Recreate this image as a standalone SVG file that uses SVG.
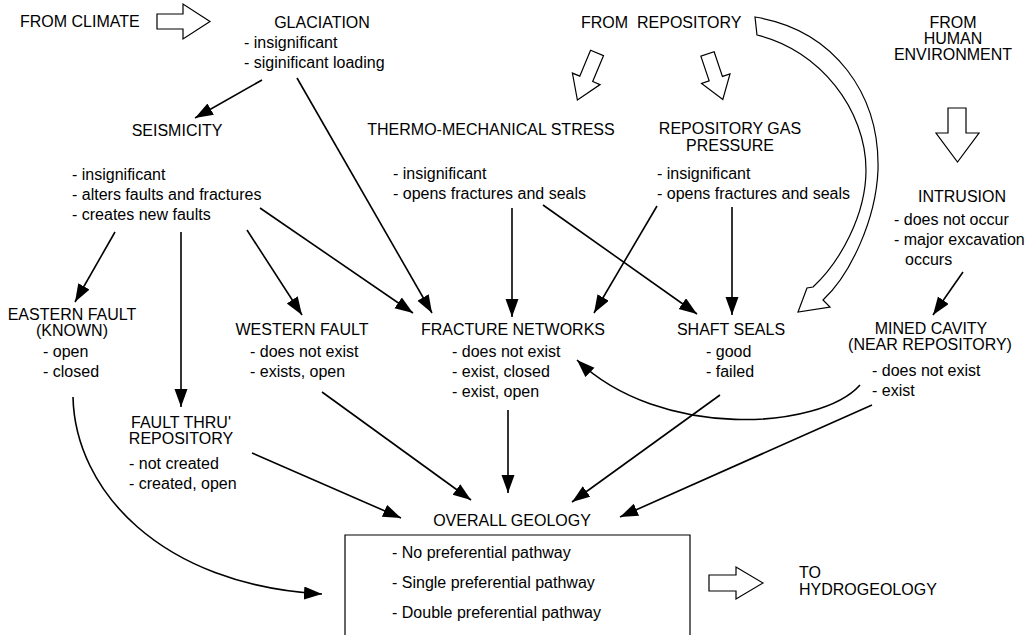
<svg xmlns="http://www.w3.org/2000/svg" width="1034" height="635" viewBox="0 0 1034 635">
<style>
text{font-family:"Liberation Sans",Arial,sans-serif;font-size:16px;fill:#000}
.m{text-anchor:middle}
.c{fill:none;stroke:#000;stroke-width:1.6}
.h{fill:#fff;stroke:#000;stroke-width:1.2;stroke-linejoin:miter}
</style>
<defs>
<marker id="ah" markerUnits="userSpaceOnUse" markerWidth="19" markerHeight="14" refX="18" refY="6.5" orient="auto">
<path d="M0,0 L18,6.5 L0,13 z" fill="#000"/>
</marker>
</defs>
<rect width="1034" height="635" fill="#fff"/>

<g id="from-climate">
<text x="20" y="27">FROM CLIMATE</text>
<polygon class="h" points="157,14 183,14 183,4 210,21.5 183,39 183,29 157,29"/>
</g>
<g id="glaciation">
<text class="m" x="322" y="27.5">GLACIATION</text>
<text x="244" y="48">- insignificant</text>
<text x="244" y="68">- siginificant loading</text>
</g>
<g id="from-repository">
<text x="581" y="27.5" xml:space="preserve">FROM  REPOSITORY</text>
<polygon class="h" points="0,-7 28,-7 28,-15 51,0 28,15 28,7 0,7" transform="translate(597,53) rotate(112.6)"/>
<polygon class="h" points="0,-7 26,-7 26,-15 48,0 26,15 26,7 0,7" transform="translate(707.5,54) rotate(71.4)"/>
<path class="h" d="M755,17 C835,30 880,95 878,170 C876,220 850,275 823,300 L830,307 L798,312 L807,288 L813,287 C840,262 866,215 866,170 C866,110 820,50 757,35 Z"/>
</g>
<g id="from-human">
<text class="m" x="953" y="28">FROM</text>
<text class="m" x="953" y="44">HUMAN</text>
<text class="m" x="953" y="60">ENVIRONMENT</text>
<polygon class="h" points="948,108 966,108 966,133 979,133 957.5,162 936,133 948,133"/>
</g>
<g id="seismicity">
<text class="m" x="177" y="136">SEISMICITY</text>
<text x="72" y="180">- insignificant</text>
<text x="72" y="200">- alters faults and fractures</text>
<text x="72" y="220">- creates new faults</text>
</g>
<g id="thermo">
<text class="m" x="491" y="135">THERMO-MECHANICAL STRESS</text>
<text x="393" y="179">- insignificant</text>
<text x="393" y="199">- opens fractures and seals</text>
</g>
<g id="gas-pressure">
<text class="m" x="730" y="134">REPOSITORY GAS</text>
<text class="m" x="730" y="151">PRESSURE</text>
<text x="657" y="179">- insignificant</text>
<text x="657" y="199">- opens fractures and seals</text>
</g>
<g id="intrusion">
<text class="m" x="962" y="202">INTRUSION</text>
<text x="894" y="225">- does not occur</text>
<text x="894" y="245">- major excavation</text>
<text x="905" y="265">occurs</text>
</g>
<g id="eastern-fault">
<text class="m" x="72" y="320">EASTERN FAULT</text>
<text class="m" x="72" y="336">(KNOWN)</text>
<text x="43" y="357">- open</text>
<text x="43" y="377">- closed</text>
</g>
<g id="western-fault">
<text class="m" x="302" y="335">WESTERN FAULT</text>
<text x="250" y="357">- does not exist</text>
<text x="250" y="377">- exists, open</text>
</g>
<g id="fracture-networks">
<text class="m" x="513" y="335">FRACTURE NETWORKS</text>
<text x="452" y="357">- does not exist</text>
<text x="452" y="377">- exist, closed</text>
<text x="452" y="397">- exist, open</text>
</g>
<g id="shaft-seals">
<text class="m" x="731" y="335">SHAFT SEALS</text>
<text x="706" y="357">- good</text>
<text x="706" y="377">- failed</text>
</g>
<g id="mined-cavity">
<text class="m" x="931" y="334">MINED CAVITY</text>
<text class="m" x="930" y="350">(NEAR REPOSITORY)</text>
<text x="872" y="376">- does not exist</text>
<text x="872" y="396">- exist</text>
</g>
<g id="fault-thru">
<text class="m" x="181" y="428">FAULT THRU'</text>
<text class="m" x="181" y="444">REPOSITORY</text>
<text x="129" y="469">- not created</text>
<text x="129" y="489">- created, open</text>
</g>
<g id="overall-geology">
<text class="m" x="512" y="526">OVERALL GEOLOGY</text>
<path d="M345,640 V535 H690 V640" fill="none" stroke="#000" stroke-width="1.2"/>
<text x="392" y="558">- No preferential pathway</text>
<text x="392" y="588">- Single preferential pathway</text>
<text x="392" y="618">- Double preferential pathway</text>
</g>
<g id="to-hydrogeology">
<polygon class="h" points="709,575 736,575 736,567 763,583 736,599 736,591 709,591"/>
<text x="799" y="578">TO</text>
<text x="799" y="595">HYDROGEOLOGY</text>
</g>

<g id="connectors" class="c" marker-end="url(#ah)">
<line class="c" x1="262" y1="80" x2="195" y2="118" marker-end="url(#ah)"/>
<line class="c" x1="297" y1="78" x2="432" y2="313" marker-end="url(#ah)"/>
<line class="c" x1="115" y1="232" x2="75" y2="302" marker-end="url(#ah)"/>
<line class="c" x1="181" y1="232" x2="181" y2="407" marker-end="url(#ah)"/>
<line class="c" x1="247" y1="230" x2="302" y2="315" marker-end="url(#ah)"/>
<line class="c" x1="260" y1="208" x2="413" y2="313" marker-end="url(#ah)"/>
<line class="c" x1="512" y1="208" x2="512" y2="317" marker-end="url(#ah)"/>
<line class="c" x1="543" y1="205" x2="697" y2="314" marker-end="url(#ah)"/>
<line class="c" x1="657" y1="206" x2="594" y2="313" marker-end="url(#ah)"/>
<line class="c" x1="732" y1="207" x2="732" y2="315" marker-end="url(#ah)"/>
<line class="c" x1="963" y1="272" x2="933" y2="315" marker-end="url(#ah)"/>
<path class="c" d="M73,397 C75,490 160,585 322,594" marker-end="url(#ah)"/>
<line class="c" x1="252" y1="453" x2="401" y2="518" marker-end="url(#ah)"/>
<line class="c" x1="322" y1="392" x2="471" y2="500" marker-end="url(#ah)"/>
<line class="c" x1="508" y1="410" x2="508" y2="493" marker-end="url(#ah)"/>
<line class="c" x1="720" y1="395" x2="572" y2="502" marker-end="url(#ah)"/>
<line class="c" x1="872" y1="405" x2="620" y2="517" marker-end="url(#ah)"/>
<path class="c" d="M860,385 C820,430 660,440 577,360" marker-end="url(#ah)"/>
</g>
</svg>
